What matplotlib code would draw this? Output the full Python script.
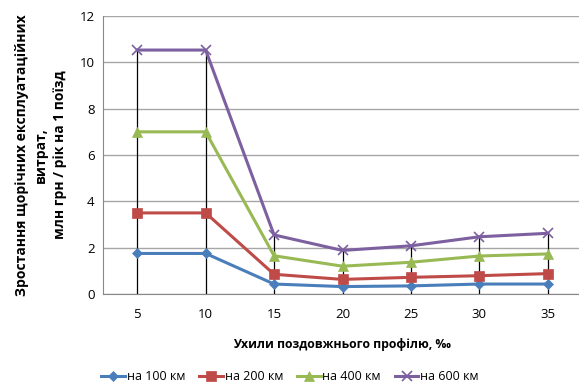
import numpy as np
import matplotlib
matplotlib.use("Agg")
import matplotlib.pyplot as plt

plt.rcParams['font.family'] = ['Open Sans', 'DejaVu Sans']

# slopes of the longitudinal profile, per mille
slopes = ['5', '10', '15', '20', '25', '30', '35']

km100 = [1.75, 1.75, 0.43, 0.32, 0.35, 0.43, 0.43]
km200 = [3.5, 3.5, 0.85, 0.63, 0.72, 0.79, 0.88]
km400 = [7.0, 7.0, 1.65, 1.2, 1.37, 1.64, 1.73]
km600 = [10.53, 10.53, 2.55, 1.88, 2.08, 2.47, 2.62]

labels = ['на 100 км', 'на 200 км', 'на 400 км', 'на 600 км']
colors = ['#4a7ebb', '#be4b48', '#98b954', '#7d60a0']
markers = ['D', 's', '^', 'x']
msizes = [5.5, 7, 7, 7]

fig = plt.figure(figsize=(5.79, 3.85), dpi=100)
ax = fig.add_axes([103/579, 91/385, 479/579, 278/385])

x = np.arange(len(slopes))
series = [km100, km200, km400, km600]

# drop lines from the axis up to the highest series
top = np.max(np.array(series), axis=0)
ax.vlines(x, 0, top, colors='black', linewidth=0.9, zorder=2)

for vals, lab, c, m, ms in zip(series, labels, colors, markers, msizes):
    ax.plot(x, vals, color=c, marker=m, markersize=ms, linewidth=2.2,
            markeredgewidth=1.2 if m == 'x' else 0.5, label=lab, zorder=3)

ax.set_xlim(-0.5, 6.5)
ax.set_ylim(0, 12)
ax.set_yticks(range(0, 13, 2))
ax.set_xticks(x)
ax.set_xticklabels(slopes)
ax.tick_params(axis='both', length=0, labelsize=9.5, colors='black')
ax.tick_params(axis='x', pad=10)
ax.tick_params(axis='y', pad=6)
ax.grid(axis='y', color='#a6a6a6', linewidth=1)
ax.set_axisbelow(True)
for s in ['top', 'right']:
    ax.spines[s].set_visible(False)
for s in ['left', 'bottom']:
    ax.spines[s].set_color('#888888')

ax.set_ylabel('Зростання щорічних експлуатаційних\nвитрат,\nмлн грн / рік на 1 поїзд',
              fontsize=10, fontweight='bold', linespacing=1.45, labelpad=9)
ax.set_xlabel('Ухили поздовжнього профілю, ‰', fontsize=8.8, fontweight='bold', labelpad=12)

fig.legend(loc='lower left', bbox_to_anchor=(90/579, -0.025), ncol=4, frameon=False,
           fontsize=9, handlelength=1.9, columnspacing=1.1, handletextpad=0.15)

fig.savefig('out.png', dpi=100)
